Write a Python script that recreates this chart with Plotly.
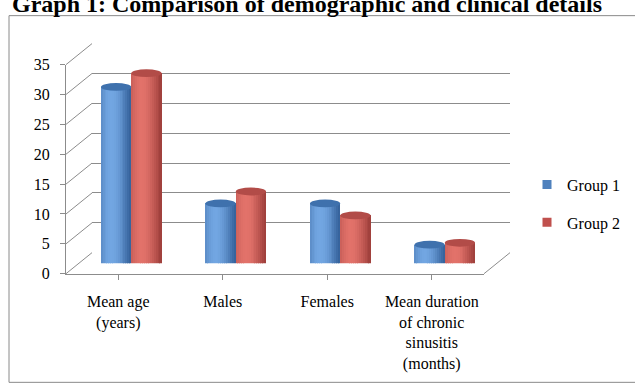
import numpy as np
import plotly.graph_objects as go

# ---- data ----
categories = ["Mean age<br>(years)", "Males", "Females",
              "Mean duration<br>of chronic<br>sinusitis<br>(months)"]
group1 = [29.5, 10, 10, 3.1]
group2 = [31.8, 12, 8, 3.4]
series_names = ["Group 1", "Group 2"]
y_ticks = [0, 5, 10, 15, 20, 25, 30, 35]

# ---- 3-D frame geometry (pixels) ----
W, H = 635, 384
FRONT_X0, FRONT_X1, FRONT_Y0 = 66, 484, 278   # front floor edge
DEPTH_X, DEPTH_Y = 26, 22                       # offset front -> back wall
UNIT = 6.25                                     # pixels per data unit
YMAX = 35


def px(x):
    return x / W


def py(y):
    return 1 - y / H


def plane(f):
    """Axis domains of a vertical plane at depth fraction f (0 front, 1 back)."""
    x0 = FRONT_X0 + f * DEPTH_X
    x1 = FRONT_X1 + f * DEPTH_X
    y0 = FRONT_Y0 - f * DEPTH_Y
    return [px(x0), px(x1)], [py(y0), py(y0 - YMAX * UNIT)]


back_dx, back_dy = plane(1.0)
front_dx, front_dy = plane(0.0)
mid_dx, mid_dy = plane(0.5)

GRID = "#8c8c8c"
FONT = "Liberation Serif"

fig = go.Figure()

# empty traces so the back-wall and front-axis subplots are drawn
fig.add_trace(go.Scatter(x=[None], y=[None], xaxis="x", yaxis="y",
                         showlegend=False, hoverinfo="skip"))
fig.add_trace(go.Scatter(x=[None], y=[None], xaxis="x2", yaxis="y2",
                         showlegend=False, hoverinfo="skip"))

# ---- cylinders: each drawn from vertical shaded slices ----
styles = {
    "Group 1": dict(dark="#34619a", light="#72a6e2", top="#3f71ad", legend="#4f81bd"),
    "Group 2": dict(dark="#9e3f3b", light="#e2726a", top="#b24c48", legend="#c0504d"),
}
BAR_W = 0.29      # width of one cylinder in category units
CAP = 0.65        # half-height of the elliptical cap in data units
N_SLICES = 16
pos = np.arange(len(categories))


def mix(c1, c2, a):
    c1 = np.array([int(c1[i:i + 2], 16) for i in (1, 3, 5)])
    c2 = np.array([int(c2[i:i + 2], 16) for i in (1, 3, 5)])
    c = np.round(c1 + (c2 - c1) * a).astype(int)
    return "rgb(%d,%d,%d)" % tuple(c)


for gi, (name, vals) in enumerate(zip(series_names, [group1, group2])):
    st = styles[name]
    centre = pos + (gi - 0.5) * BAR_W
    vals = np.array(vals, dtype=float)
    for k in range(N_SLICES):
        t = -1 + (2 * k + 1) / N_SLICES
        lift = CAP * np.sqrt(max(0.0, 1 - t * t))
        s = np.clip((t + 0.3) / 1.3, -1, 1)
        light = np.cos(s * np.pi / 2) ** 1.2
        fig.add_trace(go.Bar(
            x=centre + t * BAR_W / 2, y=vals + lift, base=-lift,
            width=BAR_W / N_SLICES * 1.25,
            marker=dict(color=mix(st["dark"], st["light"], light), line=dict(width=0)),
            xaxis="x3", yaxis="y3", showlegend=False, hoverinfo="skip",
        ))
    for c, v in zip(centre, vals):
        fig.add_shape(type="circle", xref="x3", yref="y3",
                      x0=c - BAR_W / 2, x1=c + BAR_W / 2, y0=v - CAP, y1=v + CAP,
                      fillcolor=st["top"], line=dict(width=0), layer="above")
    # legend entry
    fig.add_trace(go.Scatter(
        x=[None], y=[None], mode="markers", name=name, legendgroup=name,
        marker=dict(symbol="square", size=9, color=st["legend"]),
        xaxis="x3", yaxis="y3",
    ))

# ---- perspective lines joining front ticks to the back wall ----
def front_pix(v):
    return FRONT_Y0 - v * UNIT


for v in y_ticks:
    fig.add_shape(type="line", xref="paper", yref="paper",
                  x0=px(FRONT_X0), y0=py(front_pix(v)),
                  x1=px(FRONT_X0 + DEPTH_X), y1=py(front_pix(v) - DEPTH_Y),
                  line=dict(color=GRID, width=1), layer="below")
fig.add_shape(type="line", xref="paper", yref="paper",
              x0=px(FRONT_X1), y0=py(FRONT_Y0),
              x1=px(FRONT_X1 + DEPTH_X), y1=py(FRONT_Y0 - DEPTH_Y),
              line=dict(color=GRID, width=1), layer="below")

# outer chart border
fig.add_shape(type="rect", xref="paper", yref="paper",
              x0=px(9), x1=1.02, y0=-0.02, y1=py(8),
              line=dict(color="#8a8a8a", width=1), fillcolor="rgba(0,0,0,0)")

fig.add_annotation(
    text="<b>Graph 1: Comparison of demographic and clinical details</b>",
    xref="paper", yref="paper", x=px(10), y=py(-4), xanchor="left", yanchor="middle",
    showarrow=False, font=dict(family=FONT, size=24, color="black"),
)

fig.update_layout(
    width=W, height=H, margin=dict(l=0, r=0, t=0, b=0),
    paper_bgcolor="white", plot_bgcolor="rgba(0,0,0,0)",
    barmode="overlay", bargap=0,
    showlegend=True,
    legend=dict(x=px(527), y=py(167), xanchor="left", yanchor="top",
                font=dict(family=FONT, size=16, color="black"),
                itemwidth=30, tracegroupgap=14, bgcolor="rgba(0,0,0,0)"),
    # back wall: horizontal gridlines
    xaxis=dict(domain=back_dx, range=[0, 1], visible=False, fixedrange=True),
    yaxis=dict(domain=back_dy, range=[0, YMAX], anchor="x", showgrid=True,
               gridcolor=GRID, gridwidth=1, tickvals=y_ticks, showticklabels=False,
               zeroline=False, showline=False, ticks="", fixedrange=True),
    # front: value axis and category axis
    xaxis2=dict(domain=front_dx, range=[-0.5, len(categories) - 0.5], anchor="y2",
                tickvals=list(pos), ticktext=categories, showgrid=False, zeroline=False,
                showline=True, linecolor=GRID, linewidth=1,
                ticks="outside", ticklen=5, tickcolor=GRID, tickson="boundaries",
                ticklabelstandoff=8,
                tickfont=dict(family=FONT, size=16, color="black"), fixedrange=True),
    yaxis2=dict(domain=front_dy, range=[0, YMAX], anchor="x2", tickvals=y_ticks,
                showgrid=False, zeroline=False, showline=True, linecolor=GRID, linewidth=1,
                ticks="outside", ticklen=5, tickcolor=GRID, ticklabelstandoff=7,
                tickfont=dict(family=FONT, size=16, color="black"), fixedrange=True),
    # middle depth: cylinders
    xaxis3=dict(domain=mid_dx, range=[-0.5, len(categories) - 0.5], anchor="y3",
                visible=False, fixedrange=True),
    yaxis3=dict(domain=mid_dy, range=[0, YMAX], anchor="x3", visible=False, fixedrange=True),
)

fig.write_html("out.html")
